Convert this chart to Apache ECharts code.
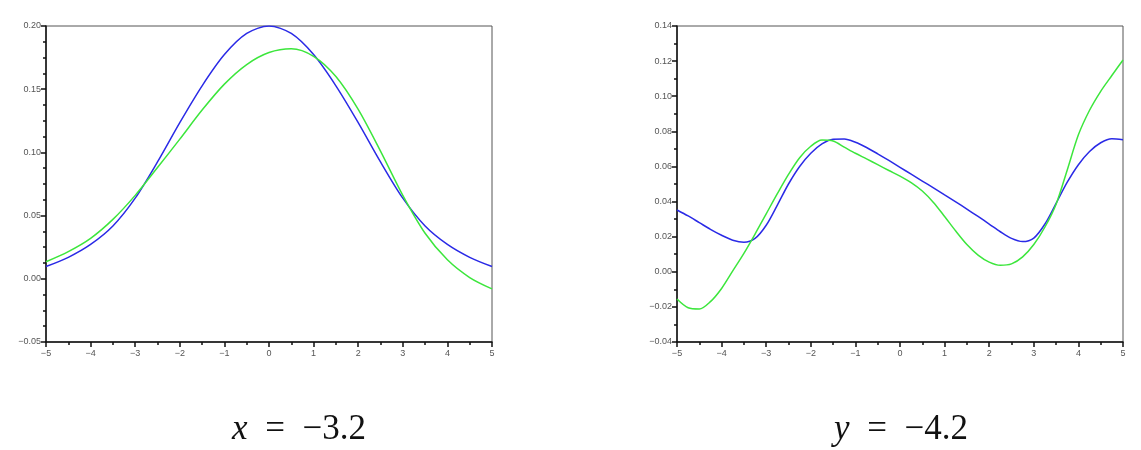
<!DOCTYPE html>
<html>
<head>
<meta charset="utf-8">
<script src="https://cdn.jsdelivr.net/npm/echarts@6/dist/echarts.min.js"></script>
<style>
  html, body { margin: 0; padding: 0; background: #fff; }
  #chart { width: 1141px; height: 450px; }
</style>
</head>
<body>
<div id="chart"></div>
<script>
// left panel : x = -3.2
var xLeft = [-5, -4.5, -4, -3.5, -3, -2.5, -2, -1.5, -1, -0.5, 0, 0.5, 1, 1.5, 2, 2.5, 3, 3.5, 4, 4.5, 5];
var blueLeft = [0.0097, 0.0170, 0.0272, 0.0418, 0.0638, 0.0925, 0.1236, 0.1527, 0.1774, 0.1941, 0.2, 0.1941, 0.1774, 0.1527, 0.1236, 0.0925, 0.0638, 0.0418, 0.0272, 0.0170, 0.0097];
var greenLeft = [0.0135, 0.0215, 0.0320, 0.0470, 0.0660, 0.0880, 0.1105, 0.1335, 0.1540, 0.1695, 0.1790, 0.1820, 0.1760, 0.1600, 0.1340, 0.1010, 0.0660, 0.0360, 0.0150, 0.0010, -0.0080];

// right panel : y = -4.2
var xRight = [-5, -4.75, -4.5, -4.25, -4, -3.75, -3.5, -3.25, -3, -2.75, -2.5, -2.25, -2, -1.75, -1.5, -1.25, -1, -0.75, -0.5, -0.25,
  0, 0.25, 0.5, 0.75, 1, 1.25, 1.5, 1.75, 2, 2.25, 2.5, 2.75, 3, 3.25, 3.5, 3.75, 4, 4.25, 4.5, 4.75, 5];
var blueRight = [0.0352, 0.0318, 0.0280, 0.0242, 0.0208, 0.0180, 0.0168, 0.0190, 0.0265, 0.0380, 0.0500, 0.0600, 0.0675, 0.0728, 0.0755, 0.0756, 0.0738, 0.0708, 0.0672, 0.0634,
  0.0595, 0.0556, 0.0517, 0.0478, 0.0438, 0.0398, 0.0357, 0.0315, 0.0272, 0.0228, 0.0190, 0.0172, 0.0192, 0.0272, 0.0390, 0.0510, 0.0610, 0.0685, 0.0735, 0.0758, 0.0752];
var greenRight = [-0.0155, -0.0205, -0.0212, -0.0170, -0.0095, 0.0005, 0.0105, 0.0215, 0.0330, 0.0445, 0.0555, 0.0650, 0.0715, 0.0750, 0.0745, 0.0710, 0.0675, 0.0643, 0.0610, 0.0577,
  0.0545, 0.0508, 0.0460, 0.0395, 0.0315, 0.0232, 0.0155, 0.0095, 0.0055, 0.0037, 0.0045, 0.0085, 0.0155, 0.0255, 0.0385, 0.0580, 0.0780, 0.0920, 0.1028, 0.1118, 0.1206];

var titleLeft = ["x", "\u2002=\u2002\u22123.2"];
var titleRight = ["y", "\u2002=\u2002\u22124.2"];

function pairs(xs, ys) {
  return xs.map(function (x, i) { return [x, ys[i]]; });
}
function minus(s) { return String(s).replace("-", "\u2212"); }

var lbl = { fontSize: 9, color: "#555", fontFamily: "Liberation Sans" };

function xAxis(idx) {
  return {
    type: "value", gridIndex: idx, min: -5, max: 5, interval: 1,
    axisLine: { onZero: false, lineStyle: { color: "#111", width: 1.5 } },
    axisTick: { length: 5, lineStyle: { color: "#111", width: 1.5 } },
    minorTick: { show: true, splitNumber: 2, length: 3, lineStyle: { color: "#111", width: 1.5 } },
    splitLine: { show: false },
    axisLabel: Object.assign({ margin: 7, formatter: function (v) { return minus(v); } }, lbl)
  };
}
function yAxis(idx, min, max, interval, split) {
  return {
    type: "value", gridIndex: idx, min: min, max: max, interval: interval,
    axisLine: { onZero: false, lineStyle: { color: "#111", width: 1.5 } },
    axisTick: { length: 5, lineStyle: { color: "#111", width: 1.5 } },
    minorTick: { show: true, splitNumber: split, length: 3, lineStyle: { color: "#111", width: 1.5 } },
    splitLine: { show: false },
    axisLabel: Object.assign({ margin: 5, formatter: function (v) { return minus(v.toFixed(2)); } }, lbl)
  };
}
function line(idx, data, color) {
  return {
    type: "line", xAxisIndex: idx, yAxisIndex: idx, data: data,
    smooth: 0.3,
    showSymbol: false, animation: false,
    lineStyle: { color: color, width: 1.5 }
  };
}
function title(parts, x) {
  return {
    text: "{i|" + parts[0] + "}{n|" + parts[1] + "}",
    left: x, top: 407, textAlign: "center",
    textStyle: {
      fontWeight: "normal",
      rich: {
        i: { fontFamily: "Liberation Serif", fontStyle: "italic", fontWeight: "normal", fontSize: 35, color: "#111" },
        n: { fontFamily: "Liberation Serif", fontWeight: "normal", fontSize: 35, color: "#111" }
      }
    }
  };
}

var myChart = echarts.init(document.getElementById("chart"));
var option = {
  backgroundColor: "#fff",
  animation: false,
  title: [title(titleLeft, 294), title(titleRight, 896)],
  grid: [
    { left: 46, top: 26, width: 446, height: 316, show: true, borderColor: "#555", borderWidth: 1 },
    { left: 677, top: 26, width: 446, height: 316, show: true, borderColor: "#555", borderWidth: 1 }
  ],
  xAxis: [xAxis(0), xAxis(1)],
  yAxis: [yAxis(0, -0.05, 0.20, 0.05, 4), yAxis(1, -0.04, 0.14, 0.02, 2)],
  series: [
    line(0, pairs(xLeft, blueLeft), "#2a2ae6"),
    line(0, pairs(xLeft, greenLeft), "#3ce63c"),
    line(1, pairs(xRight, blueRight), "#2a2ae6"),
    line(1, pairs(xRight, greenRight), "#3ce63c")
  ]
};
if (option && typeof option === "object") {
  myChart.setOption(option);
}
</script>
</body>
</html>
